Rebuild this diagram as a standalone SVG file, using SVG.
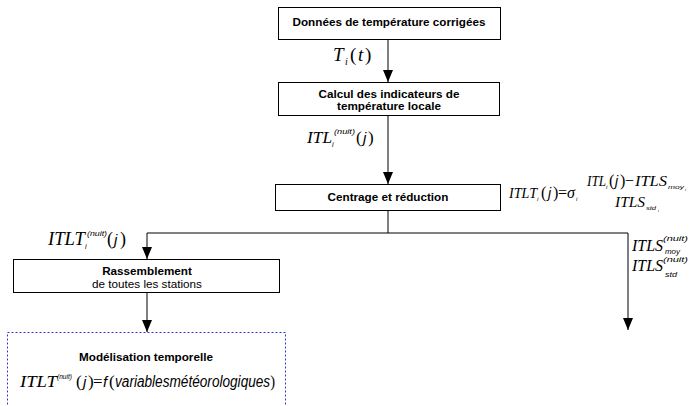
<svg xmlns="http://www.w3.org/2000/svg" width="694" height="406" viewBox="0 0 694 406">
<style>
.box{fill:#fff;stroke:#000;stroke-width:1}
.dbox{fill:#fff;stroke:#3333cc;stroke-width:1;stroke-dasharray:2,2}
.lbl{font-family:"Liberation Sans",Arial,sans-serif;font-size:11.7px;fill:#000;text-anchor:middle}
.b{font-weight:bold}
.m{font-family:"Liberation Serif","Times New Roman",serif;font-style:italic;fill:#000}
.u{font-family:"Liberation Serif","Times New Roman",serif;font-style:normal;fill:#000}
.s{font-family:"Liberation Sans",Arial,sans-serif;font-style:italic;fill:#000}
.ln{fill:none;stroke:#000;stroke-width:1}
</style>
<defs>
<marker id="ah" markerUnits="userSpaceOnUse" markerWidth="12" markerHeight="10" viewBox="0 0 12 10" refX="12" refY="5" orient="auto">
<path d="M0,0 L12,5 L0,10 Z" fill="#000"/>
</marker>
</defs>
<rect width="694" height="406" fill="#fff"/>
<g id="connectors">
<path class="ln" d="M388,39 V82" marker-end="url(#ah)"/>
<path class="ln" d="M388,115 V184" marker-end="url(#ah)"/>
<path class="ln" d="M388,210 V233 M147,233 H628"/>
<path class="ln" d="M147,233 V259" marker-end="url(#ah)"/>
<path class="ln" d="M628,233 V330" marker-end="url(#ah)"/>
<path class="ln" d="M147,292 V332" marker-end="url(#ah)"/>
</g>
<g id="n1">
<rect class="box" x="278.5" y="7.5" width="222" height="32"/>
<text class="lbl b" x="389" y="26">Données de température corrigées</text>
</g>
<g id="n2">
<rect class="box" x="278.5" y="82.5" width="221" height="33"/>
<text class="lbl b" x="389" y="98">Calcul des indicateurs de</text>
<text class="lbl b" x="389" y="110">température locale</text>
</g>
<g id="n3">
<rect class="box" x="275.5" y="184.5" width="225" height="26"/>
<text class="lbl b" x="388" y="201">Centrage et réduction</text>
</g>
<g id="n4">
<rect class="box" x="13.5" y="259.5" width="266" height="33"/>
<text class="lbl b" x="147" y="275">Rassemblement</text>
<text class="lbl" x="147" y="288">de toutes les stations</text>
</g>
<g id="n5">
<rect class="dbox" x="7.5" y="332.5" width="278" height="90"/>
<text class="lbl b" x="146" y="361">Modélisation temporelle</text>
<text class="m" font-size="17" x="20" y="387" textLength="37" lengthAdjust="spacingAndGlyphs">ITLT</text>
<text class="s" font-size="7" x="57" y="379" textLength="15" lengthAdjust="spacingAndGlyphs">(nuit)</text>
<text class="u" font-size="17" x="76" y="387">(</text>
<text class="s" font-size="15" x="83" y="387">j</text>
<text class="u" font-size="17" x="88" y="387">)</text>
<text class="u" font-size="17" x="93" y="387">=</text>
<text class="s" font-size="15" x="103" y="387">f</text>
<text class="u" font-size="17" x="109" y="387">(</text>
<text class="s" font-size="16" x="115" y="387" textLength="160" lengthAdjust="spacingAndGlyphs">variablesmétéorologiques<tspan class="u" font-size="17">)</tspan></text>
</g>
<g id="labels">
<text class="m" font-size="19" x="333" y="61">T</text>
<text class="m" font-size="10" x="345" y="65">i</text>
<text class="u" font-size="19" x="350" y="61">(</text>
<text class="m" font-size="19" x="358" y="61">t</text>
<text class="u" font-size="19" x="365" y="61">)</text>

<text class="m" font-size="17" x="307" y="143" textLength="25" lengthAdjust="spacingAndGlyphs">ITL</text>
<text class="s" font-size="7" x="332" y="147">i</text>
<text class="s" font-size="7.5" x="334" y="134" textLength="21" lengthAdjust="spacingAndGlyphs">(nuit)</text>
<text class="u" font-size="17" x="356" y="143">(</text>
<text class="s" font-size="15" x="363" y="143">j</text>
<text class="u" font-size="17" x="368" y="143">)</text>

<text class="m" font-size="18" x="48" y="245" textLength="37" lengthAdjust="spacingAndGlyphs">ITLT</text>
<text class="s" font-size="7" x="85" y="249">i</text>
<text class="s" font-size="7.5" x="87" y="236" textLength="20" lengthAdjust="spacingAndGlyphs">(nuit)</text>
<text class="u" font-size="18" x="107" y="245">(</text>
<text class="s" font-size="15" x="114" y="245">j</text>
<text class="u" font-size="18" x="120" y="245">)</text>

<text class="m" font-size="15" x="509" y="198" textLength="28" lengthAdjust="spacingAndGlyphs">ITLT</text>
<text class="s" font-size="6" x="537" y="201">i</text>
<text class="u" font-size="16" x="541" y="198">(</text>
<text class="s" font-size="14" x="548" y="198">j</text>
<text class="u" font-size="16" x="553" y="198">)</text>
<text class="u" font-size="16" x="558" y="198">=</text>
<text class="m" font-size="16" x="567" y="198">σ</text>
<text class="s" font-size="6" x="576" y="201">i</text>
<text class="m" font-size="15" x="587" y="186" textLength="19" lengthAdjust="spacingAndGlyphs">ITL</text>
<text class="s" font-size="6" x="606" y="189">i</text>
<text class="u" font-size="16" x="609" y="186">(</text>
<text class="s" font-size="14" x="615" y="186">j</text>
<text class="u" font-size="16" x="620" y="186">)</text>
<text class="u" font-size="16" x="625" y="186">−</text>
<text class="m" font-size="15" x="635" y="186" textLength="32" lengthAdjust="spacingAndGlyphs">ITLS</text>
<text class="s" font-size="5" x="668" y="189" textLength="16" lengthAdjust="spacingAndGlyphs">moy</text>
<text class="s" font-size="4" x="685" y="191">i</text>
<text class="m" font-size="15" x="615" y="207" textLength="30" lengthAdjust="spacingAndGlyphs">ITLS</text>
<text class="s" font-size="5" x="646" y="210" textLength="10" lengthAdjust="spacingAndGlyphs">std</text>
<text class="s" font-size="4" x="658" y="212">i</text>

<text class="m" font-size="16" x="632" y="251" textLength="31" lengthAdjust="spacingAndGlyphs">ITLS</text>
<text class="s" font-size="7.5" x="663" y="241" textLength="25" lengthAdjust="spacingAndGlyphs">(nuit)</text>
<text class="s" font-size="7.5" x="665" y="254" textLength="15" lengthAdjust="spacingAndGlyphs">moy</text>
<text class="m" font-size="16" x="632" y="271" textLength="31" lengthAdjust="spacingAndGlyphs">ITLS</text>
<text class="s" font-size="7.5" x="663" y="262" textLength="25" lengthAdjust="spacingAndGlyphs">(nuit)</text>
<text class="s" font-size="7.5" x="665" y="277" textLength="12" lengthAdjust="spacingAndGlyphs">std</text>
</g>
</svg>
